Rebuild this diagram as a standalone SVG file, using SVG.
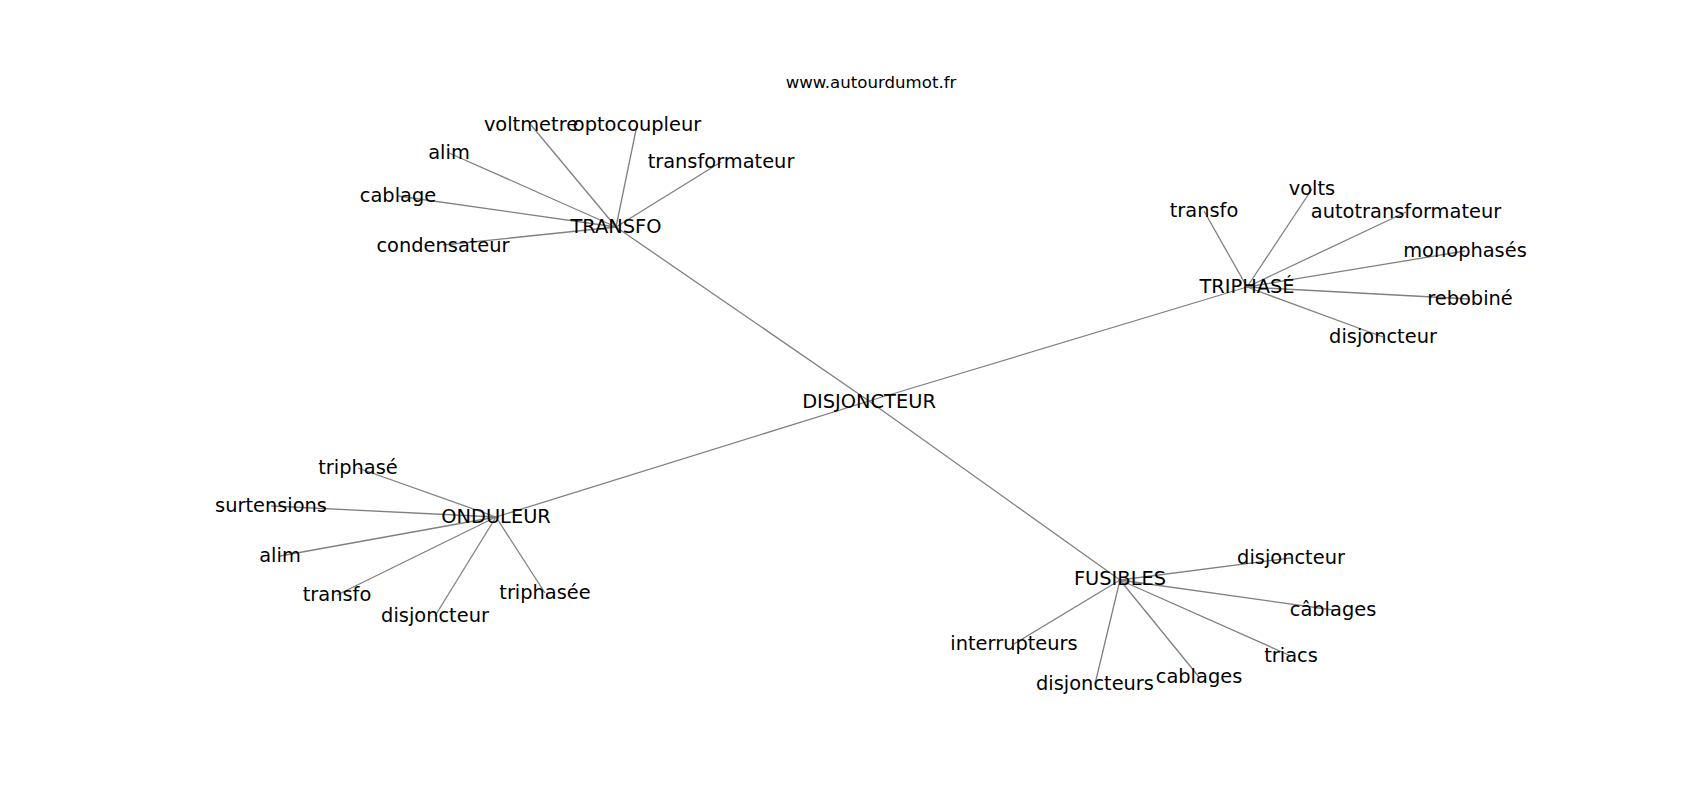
<svg xmlns="http://www.w3.org/2000/svg" width="1700" height="800" viewBox="0 0 1700 800">
<style>
.e{stroke:#808080;stroke-width:1.3;fill:none}
text{font-family:"DejaVu Sans",sans-serif;font-size:19.4px;fill:#000;text-anchor:middle}
.t{font-size:16.6px}
</style>
<rect width="1700" height="800" fill="#fff"/>
<text class="t" x="871" y="88">www.autourdumot.fr</text>
<g id="edges">
<line class="e" x1="869" y1="401" x2="616" y2="227"/>
<line class="e" x1="869" y1="401" x2="1247" y2="287"/>
<line class="e" x1="869" y1="401" x2="496" y2="517"/>
<line class="e" x1="869" y1="401" x2="1120" y2="580"/>
<line class="e" x1="616" y1="227" x2="531" y2="125"/>
<line class="e" x1="616" y1="227" x2="637" y2="125"/>
<line class="e" x1="616" y1="227" x2="449" y2="153"/>
<line class="e" x1="616" y1="227" x2="721" y2="162"/>
<line class="e" x1="616" y1="227" x2="398" y2="196"/>
<line class="e" x1="616" y1="227" x2="443" y2="245"/>
<line class="e" x1="1247" y1="287" x2="1204" y2="211"/>
<line class="e" x1="1247" y1="287" x2="1312" y2="189"/>
<line class="e" x1="1247" y1="287" x2="1406" y2="212"/>
<line class="e" x1="1247" y1="287" x2="1465" y2="251"/>
<line class="e" x1="1247" y1="287" x2="1470" y2="299"/>
<line class="e" x1="1247" y1="287" x2="1383" y2="337"/>
<line class="e" x1="496" y1="517" x2="358" y2="468"/>
<line class="e" x1="496" y1="517" x2="271" y2="506"/>
<line class="e" x1="496" y1="517" x2="280" y2="556"/>
<line class="e" x1="496" y1="517" x2="337" y2="595"/>
<line class="e" x1="496" y1="517" x2="435" y2="616"/>
<line class="e" x1="496" y1="517" x2="545" y2="593"/>
<line class="e" x1="1120" y1="580" x2="1291" y2="558"/>
<line class="e" x1="1120" y1="580" x2="1333" y2="610"/>
<line class="e" x1="1120" y1="580" x2="1291" y2="656"/>
<line class="e" x1="1120" y1="580" x2="1199" y2="677"/>
<line class="e" x1="1120" y1="580" x2="1095" y2="684"/>
<line class="e" x1="1120" y1="580" x2="1014" y2="644"/>
</g>
<g id="n-disjoncteur-hub"><text x="869" y="408">DISJONCTEUR</text></g>
<g id="n-transfo-hub"><text x="616" y="233">TRANSFO</text></g>
<g id="n-triphase-hub"><text x="1247" y="293">TRIPHASÉ</text></g>
<g id="n-onduleur-hub"><text x="496" y="523">ONDULEUR</text></g>
<g id="n-fusibles-hub"><text x="1120" y="585">FUSIBLES</text></g>
<g id="n-voltmetre"><text x="531" y="131">voltmetre</text></g>
<g id="n-optocoupleur"><text x="637" y="131">optocoupleur</text></g>
<g id="n-alim1"><text x="449" y="159">alim</text></g>
<g id="n-transformateur"><text x="721" y="168">transformateur</text></g>
<g id="n-cablage"><text x="398" y="202">cablage</text></g>
<g id="n-condensateur"><text x="443" y="252">condensateur</text></g>
<g id="n-transfo1"><text x="1204" y="217">transfo</text></g>
<g id="n-volts"><text x="1312" y="195">volts</text></g>
<g id="n-autotransformateur"><text x="1406" y="218">autotransformateur</text></g>
<g id="n-monophases"><text x="1465" y="257">monophasés</text></g>
<g id="n-rebobine"><text x="1470" y="305">rebobiné</text></g>
<g id="n-disjoncteur1"><text x="1383" y="343">disjoncteur</text></g>
<g id="n-triphase"><text x="358" y="474">triphasé</text></g>
<g id="n-surtensions"><text x="271" y="512">surtensions</text></g>
<g id="n-alim2"><text x="280" y="562">alim</text></g>
<g id="n-transfo2"><text x="337" y="601">transfo</text></g>
<g id="n-disjoncteur2"><text x="435" y="622">disjoncteur</text></g>
<g id="n-triphasee"><text x="545" y="599">triphasée</text></g>
<g id="n-disjoncteur3"><text x="1291" y="564">disjoncteur</text></g>
<g id="n-cablages-accent"><text x="1333" y="616">câblages</text></g>
<g id="n-triacs"><text x="1291" y="662">triacs</text></g>
<g id="n-cablages"><text x="1199" y="683">cablages</text></g>
<g id="n-disjoncteurs"><text x="1095" y="690">disjoncteurs</text></g>
<g id="n-interrupteurs"><text x="1014" y="650">interrupteurs</text></g>
</svg>
